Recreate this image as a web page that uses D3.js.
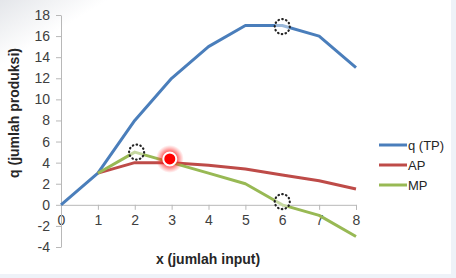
<!DOCTYPE html>
<html><head><meta charset="utf-8">
<script src="https://cdn.jsdelivr.net/npm/d3@7"></script>
<style>
html,body{margin:0;padding:0;background:#eef2f8;}
svg{display:block;font-family:"Liberation Sans",Arial,sans-serif;}
</style></head>
<body><svg id="c" width="456" height="278"></svg>
<script>
const xs = [0,1,2,3,4,5,6,7,8];
const tp = [0,3,8,12,15,17,17,16,13];
const ap = [null,3,4,4,3.75,3.4,2.83,2.29,1.5];
const mp = [null,3,5,4,3,2,0,-1,-3];
const yTicks = [-4,-2,0,2,4,6,8,10,12,14,16,18];
const xTicks = [0,1,2,3,4,5,6,7,8];
const seriesNames = ["q (TP)","AP","MP"];
const seriesColors = ["#4a7ebb","#be4b48","#98b954"];
const dashedMarks = [{x:2.05,y:5.0},{x:6.0,y:16.9},{x:6.0,y:0.3}];
const redMark = {x:2.95,y:4.35};

const svg = d3.select("#c");
const defs = svg.append("defs");
const g1 = defs.append("linearGradient").attr("id","tl").attr("x1","0").attr("y1","0").attr("x2","1").attr("y2","1");
g1.append("stop").attr("offset","0").attr("stop-color","#e4e6ea");
g1.append("stop").attr("offset","0.12").attr("stop-color","#ffffff");
svg.append("rect").attr("x",0).attr("y",0).attr("width",451).attr("height",274).attr("fill","url(#tl)");
const rg = defs.append("radialGradient").attr("id","glow");
rg.append("stop").attr("offset","0").attr("stop-color","#ff0000").attr("stop-opacity",1);
rg.append("stop").attr("offset","0.55").attr("stop-color","#ff1010").attr("stop-opacity",0.6);
rg.append("stop").attr("offset","1").attr("stop-color","#ff4040").attr("stop-opacity",0);

const x = d3.scaleLinear().domain([0,8]).range([61,356]);
const y = d3.scaleLinear().domain([-4,18]).range([247,15]);
const fmt = d => String(d).replace("\u2212","-");

const xa = svg.append("g").attr("transform",`translate(0,${y(0)})`)
  .call(d3.axisBottom(x).tickValues(xTicks).tickSize(5).tickPadding(5).tickFormat(fmt));
xa.select(".domain").attr("stroke","#b8b8b8");
xa.selectAll(".tick line").attr("stroke","#b8b8b8");
xa.selectAll("text").attr("font-size",14).attr("fill","#404040").attr("font-family","Liberation Sans, Arial, sans-serif");

const ya = svg.append("g").attr("transform",`translate(${x(0)},0)`)
  .call(d3.axisLeft(y).tickValues(yTicks).tickSize(5).tickPadding(6).tickSizeOuter(0).tickFormat(fmt));
ya.select(".domain").attr("stroke","#b8b8b8");
ya.selectAll(".tick line").attr("stroke","#b8b8b8");
ya.selectAll("text").attr("font-size",14).attr("fill","#404040").attr("font-family","Liberation Sans, Arial, sans-serif");

const series = [tp,ap,mp];
series.forEach((s,i)=>{
  const line = d3.line().defined(d=>d[1]!==null).x(d=>x(d[0])).y(d=>y(d[1]));
  svg.append("path").datum(xs.map((v,j)=>[v,s[j]]))
    .attr("d",line).attr("fill","none").attr("stroke",seriesColors[i])
    .attr("stroke-width",3).attr("stroke-linejoin","round");
});

dashedMarks.forEach(m=>{
  svg.append("circle").attr("cx",x(m.x)).attr("cy",y(m.y)).attr("r",7.5)
    .attr("fill","rgba(255,255,255,0.45)").attr("stroke","#222").attr("stroke-width",2.2)
    .attr("stroke-dasharray","0.5,3.4").attr("stroke-linecap","round");
});
svg.append("circle").attr("cx",x(redMark.x)).attr("cy",y(redMark.y)).attr("r",14).attr("fill","url(#glow)");
svg.append("circle").attr("cx",x(redMark.x)).attr("cy",y(redMark.y)).attr("r",6.5).attr("fill","#ff0000").attr("stroke","#fff").attr("stroke-width",2);

svg.append("text").attr("x",208).attr("y",264).attr("text-anchor","middle")
  .attr("font-size",14).attr("font-weight","bold").attr("fill","#262626").text("x (jumlah input)");
svg.append("text").attr("transform","translate(19,113) rotate(-90)").attr("text-anchor","middle")
  .attr("font-size",14).attr("font-weight","bold").attr("fill","#262626").text("q (jumlah produksi)");

seriesNames.forEach((n,i)=>{
  const ly = 145 + i*20;
  svg.append("line").attr("x1",379).attr("x2",407).attr("y1",ly).attr("y2",ly)
    .attr("stroke",seriesColors[i]).attr("stroke-width",3);
  svg.append("text").attr("x",408).attr("y",ly+4.5).attr("font-size",13).attr("fill","#262626").text(n);
});
</script></body></html>
